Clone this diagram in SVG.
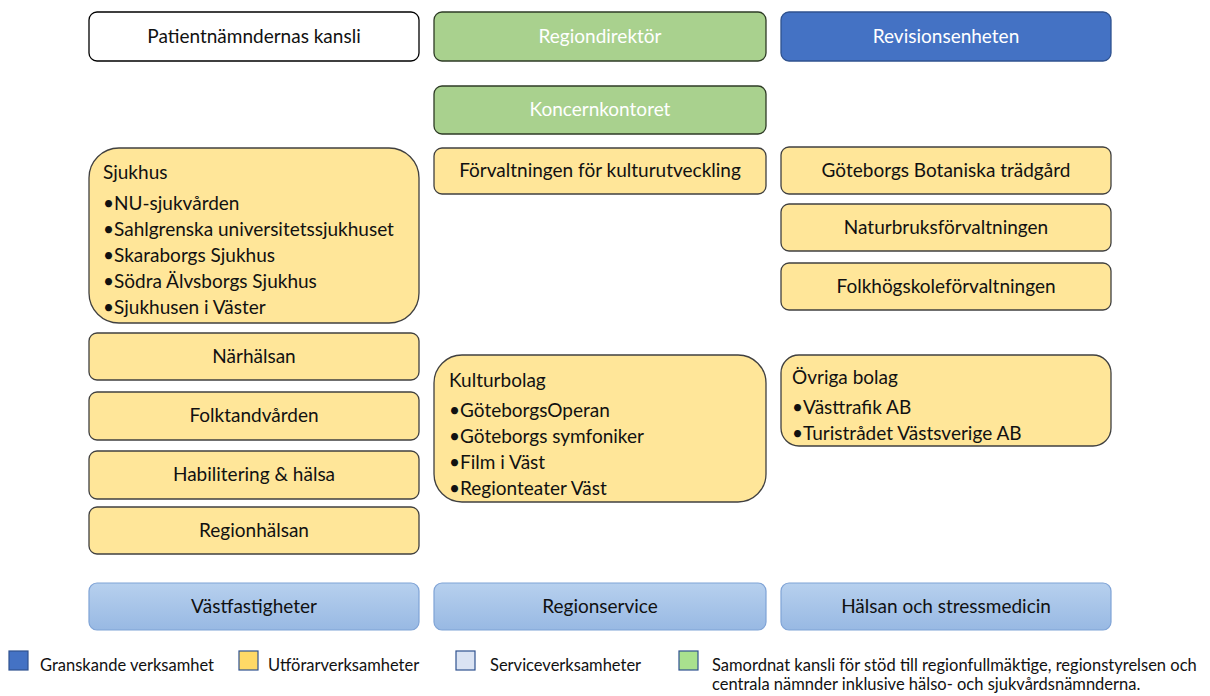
<svg xmlns="http://www.w3.org/2000/svg" width="1210" height="696" viewBox="0 0 1210 696">
<defs>
<linearGradient id="svc" x1="0" y1="0" x2="0" y2="1">
<stop offset="0" stop-color="#B7D0EE"/>
<stop offset="1" stop-color="#98B9E3"/>
</linearGradient>
<style>
text{font-family:Lato,"Open Sans","Liberation Sans",sans-serif;font-size:19px;fill:#111}
.c{text-anchor:middle}
.w{fill:#fff}
.y{fill:#FFE699;stroke:#404040;stroke-width:1.3}
.g{fill:#A9D18E;stroke:#2E3B26;stroke-width:1.3}
.b{fill:#4472C4;stroke:#2F528F;stroke-width:1.3}
.s{fill:url(#svc);stroke:#7FA3D6;stroke-width:1.2}
.wh{fill:#fff;stroke:#000;stroke-width:1.3}
.lg{font-size:16.5px}
</style>
</defs>
<g id="patientnamnd"><rect class="wh" x="89" y="12" width="330" height="49" rx="8"/><text class="c" x="254" y="43">Patientnämndernas kansli</text></g>
<g id="regiondirektor"><rect class="g" x="434" y="12" width="332" height="49" rx="8"/><text class="c w" x="600" y="43">Regiondirektör</text></g>
<g id="revision"><rect class="b" x="781" y="12" width="330" height="49" rx="8"/><text class="c w" x="946" y="43">Revisionsenheten</text></g>
<g id="koncernkontoret"><rect class="g" x="434" y="86" width="332" height="48" rx="8"/><text class="c w" x="600" y="116">Koncernkontoret</text></g>
<g id="sjukhus"><rect class="y" x="89" y="148" width="330" height="175" rx="30"/>
<text x="103" y="179">Sjukhus</text>
<text x="103" y="210">•NU-sjukvården</text>
<text x="103" y="236">•Sahlgrenska universitetssjukhuset</text>
<text x="103" y="262">•Skaraborgs Sjukhus</text>
<text x="103" y="288">•Södra Älvsborgs Sjukhus</text>
<text x="103" y="314">•Sjukhusen i Väster</text></g>
<g id="kulturutveckling"><rect class="y" x="434" y="148" width="332" height="46" rx="8"/><text class="c" x="600" y="177">Förvaltningen för kulturutveckling</text></g>
<g id="botaniska"><rect class="y" x="781" y="147" width="330" height="47" rx="8"/><text class="c" x="946" y="177">Göteborgs Botaniska trädgård</text></g>
<g id="naturbruk"><rect class="y" x="781" y="204" width="330" height="47" rx="8"/><text class="c" x="946" y="234">Naturbruksförvaltningen</text></g>
<g id="folkhogskole"><rect class="y" x="781" y="263" width="330" height="47" rx="8"/><text class="c" x="946" y="293">Folkhögskoleförvaltningen</text></g>
<g id="narhalsan"><rect class="y" x="89" y="333" width="330" height="47" rx="8"/><text class="c" x="254" y="363">Närhälsan</text></g>
<g id="folktandvarden"><rect class="y" x="89" y="392" width="330" height="48" rx="8"/><text class="c" x="254" y="422">Folktandvården</text></g>
<g id="habilitering"><rect class="y" x="89" y="451" width="330" height="48" rx="8"/><text class="c" x="254" y="481">Habilitering &amp; hälsa</text></g>
<g id="regionhalsan"><rect class="y" x="89" y="507" width="330" height="47" rx="8"/><text class="c" x="254" y="537">Regionhälsan</text></g>
<g id="kulturbolag"><rect class="y" x="434" y="355" width="332" height="147" rx="28"/>
<text x="449" y="387">Kulturbolag</text>
<text x="449" y="417">•GöteborgsOperan</text>
<text x="449" y="443">•Göteborgs symfoniker</text>
<text x="449" y="469">•Film i Väst</text>
<text x="449" y="495">•Regionteater Väst</text></g>
<g id="ovriga"><rect class="y" x="781" y="355" width="330" height="91" rx="18"/>
<text x="792" y="384">Övriga bolag</text>
<text x="792" y="414">•Västtrafik AB</text>
<text x="792" y="440">•Turistrådet Västsverige AB</text></g>
<g id="vastfastigheter"><rect class="s" x="89" y="583" width="330" height="47" rx="8"/><text class="c" x="254" y="613">Västfastigheter</text></g>
<g id="regionservice"><rect class="s" x="434" y="583" width="332" height="47" rx="8"/><text class="c" x="600" y="613">Regionservice</text></g>
<g id="halsan"><rect class="s" x="781" y="583" width="330" height="47" rx="8"/><text class="c" x="946" y="613">Hälsan och stressmedicin</text></g>
<g id="connectors"></g>
<g id="legend">
<rect x="9" y="651" width="19" height="19" fill="#4472C4" stroke="#2F528F" stroke-width="1.2"/>
<text class="lg" x="40" y="671">Granskande verksamhet</text>
<rect x="239" y="651" width="19" height="19" fill="#FFD966" stroke="#2F528F" stroke-width="1.2"/>
<text class="lg" x="268" y="671">Utförarverksamheter</text>
<rect x="456" y="651" width="19" height="19" fill="#DAE3F3" stroke="#2F528F" stroke-width="1.2"/>
<text class="lg" x="490" y="671">Serviceverksamheter</text>
<rect x="679" y="651" width="19" height="19" fill="#A9E18E" stroke="#2F528F" stroke-width="1.2"/>
<text class="lg" x="712" y="671">Samordnat kansli för stöd till regionfullmäktige, regionstyrelsen och</text>
<text class="lg" x="712" y="690">centrala nämnder inklusive hälso- och sjukvårdsnämnderna.</text>
</g>
</svg>
